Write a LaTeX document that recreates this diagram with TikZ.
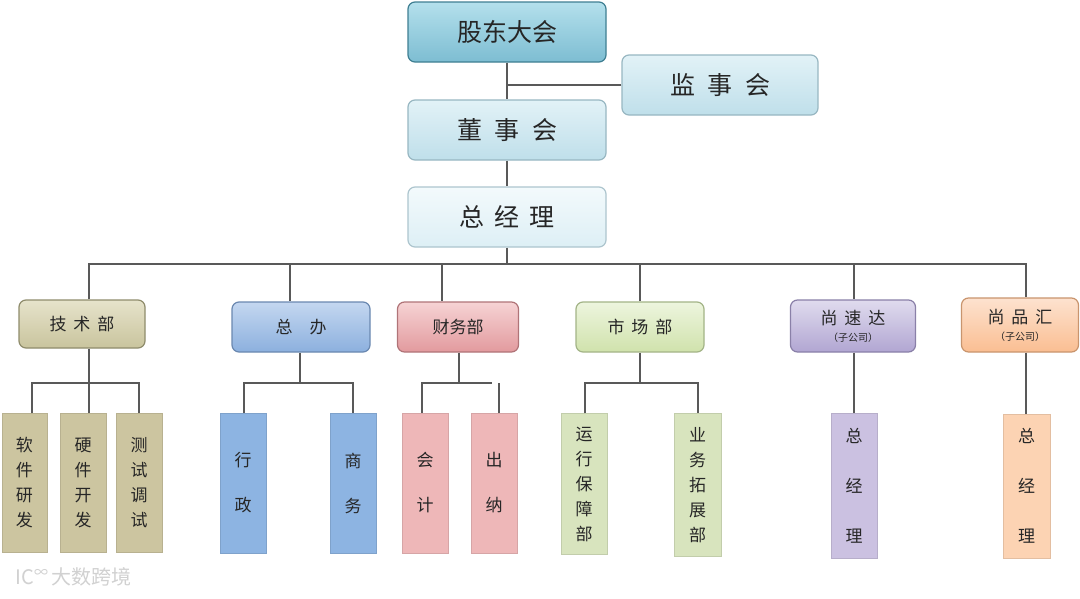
\documentclass[tikz,border=0pt]{standalone}
\usepackage{fontspec}
\newfontfamily\cjk{Noto Sans CJK SC}
\definecolor{gdT}{HTML}{B4E0EC}\definecolor{gdB}{HTML}{7DBDD2}\definecolor{gdD}{HTML}{3F7F92}
\definecolor{jsT}{HTML}{E2F2F7}\definecolor{jsB}{HTML}{BFDFEA}\definecolor{jsD}{HTML}{98B7C2}
\definecolor{zjT}{HTML}{F3FAFC}\definecolor{zjB}{HTML}{DDEFF5}
\definecolor{kT}{HTML}{E6E3CB}\definecolor{kB}{HTML}{C9C49D}\definecolor{kD}{HTML}{8F8C6C}\definecolor{kS}{HTML}{CCC5A0}
\definecolor{bT}{HTML}{C4D7F0}\definecolor{bB}{HTML}{8CB0DE}\definecolor{bD}{HTML}{6A88B0}\definecolor{bS}{HTML}{8DB4E2}
\definecolor{rT}{HTML}{F6D3D4}\definecolor{rB}{HTML}{E29A9E}\definecolor{rD}{HTML}{B07478}\definecolor{rS}{HTML}{EEB7B8}
\definecolor{gT}{HTML}{EDF5DE}\definecolor{gB}{HTML}{D0E2AC}\definecolor{gD}{HTML}{A3B487}\definecolor{gS}{HTML}{D8E4BE}
\definecolor{vT}{HTML}{E0DBEE}\definecolor{vB}{HTML}{B1A6D2}\definecolor{vD}{HTML}{8A80A8}\definecolor{vS}{HTML}{CBC1E1}
\definecolor{oT}{HTML}{FDE2CF}\definecolor{oB}{HTML}{FABE92}\definecolor{oD}{HTML}{C9956E}\definecolor{oS}{HTML}{FCD3B3}
\begin{document}
\begin{tikzpicture}[x=1pt,y=-1pt,
  ln/.style={draw=black!65,line width=1.6pt},
  box/.style={rounded corners=7pt,line width=1.2pt,inner sep=0pt,font=\cjk,text=black!85},
  sub/.style={inner sep=0pt,font=\cjk\fontsize{17}{25}\selectfont,text=black!85,align=center,line width=0.5pt},
  big/.style={box,font=\cjk\fontsize{25}{30}\selectfont},
  dept/.style={box,font=\cjk\fontsize{17}{20}\selectfont,align=center}
]
\useasboundingbox (0,0) rectangle (1080,598);
\fill[white] (0,0) rectangle (1080,598);

% top boxes
\node[big,draw=gdD,top color=gdT,bottom color=gdB,minimum width=198pt,minimum height=60pt] (gd) at (507,32) {股东大会};
\node[big,draw=jsD,top color=jsT,bottom color=jsB,minimum width=196pt,minimum height=60pt] (js) at (720,85) {监\hspace{0.5em}事\hspace{0.5em}会};
\node[big,draw=jsD,top color=jsT,bottom color=jsB,minimum width=198pt,minimum height=60pt] (ds) at (507,130) {董\hspace{0.5em}事\hspace{0.5em}会};
\node[big,draw=jsD!80,top color=zjT,bottom color=zjB,minimum width=198pt,minimum height=60pt] (zj) at (507,217) {总\hspace{0.4em}经\hspace{0.4em}理};

% departments
\node[dept,draw=kD,top color=kT,bottom color=kB,minimum width=126pt,minimum height=48pt] (jsb) at (82,324) {技\hspace{0.4em}术\hspace{0.4em}部};
\node[dept,draw=bD,top color=bT,bottom color=bB,minimum width=138pt,minimum height=50pt] (zb) at (301,327) {总\hspace{1em}办};
\node[dept,draw=rD,top color=rT,bottom color=rB,minimum width=121pt,minimum height=50pt] (cw) at (458,327) {财务部};
\node[dept,draw=gD,top color=gT,bottom color=gB,minimum width=128pt,minimum height=50pt] (sc) at (640,327) {市\hspace{0.4em}场\hspace{0.4em}部};
\node[dept,draw=vD,top color=vT,bottom color=vB,minimum width=125pt,minimum height=52pt] (ssd) at (853,326) {尚\hspace{0.4em}速\hspace{0.4em}达\\[-3pt]{\fontsize{10}{12}\selectfont（子公司）}};
\node[dept,draw=oD,top color=oT,bottom color=oB,minimum width=117pt,minimum height=54pt] (sph) at (1020,325) {尚\hspace{0.4em}品\hspace{0.4em}汇\\[-3pt]{\fontsize{10}{12}\selectfont（子公司）}};

% sub units
\tikzset{
  khaki/.style={sub,fill=kS,draw=kS!90!black},
  bluesub/.style={sub,fill=bS,draw=bS!90!black},
  pinksub/.style={sub,fill=rS,draw=rS!90!black},
  greensub/.style={sub,fill=gS,draw=gS!90!black},
  violetsub/.style={sub,fill=vS,draw=vS!90!black},
  orangesub/.style={sub,fill=oS,draw=oS!90!black}
}
\node[khaki,minimum width=45pt,minimum height=139pt] (rj) at (24.5,483) {软\\件\\研\\发};
\node[khaki,minimum width=46pt,minimum height=139pt] (yj) at (83,483) {硬\\件\\开\\发};
\node[khaki,minimum width=46pt,minimum height=139pt] (cs) at (139,483) {测\\试\\调\\试};
\node[bluesub,minimum width=46pt,minimum height=140pt,font=\cjk\fontsize{17}{45}\selectfont] (xz) at (243,483) {行\\政};
\node[bluesub,minimum width=46pt,minimum height=140pt,font=\cjk\fontsize{17}{45}\selectfont] (sw) at (353,483) {商\\务};
\node[pinksub,minimum width=46pt,minimum height=140pt,font=\cjk\fontsize{17}{45}\selectfont] (kj) at (425,483) {会\\计};
\node[pinksub,minimum width=46pt,minimum height=140pt,font=\cjk\fontsize{17}{45}\selectfont] (cn) at (494,483) {出\\纳};
\node[greensub,minimum width=46pt,minimum height=141pt] (yx) at (584,484) {运\\行\\保\\障\\部};
\node[greensub,minimum width=47pt,minimum height=143pt] (yw) at (697.5,485) {业\\务\\拓\\展\\部};
\node[violetsub,minimum width=46pt,minimum height=145pt,font=\cjk\fontsize{17}{50}\selectfont] (ssz) at (854,485.5) {总\\经\\理};
\node[orangesub,minimum width=47pt,minimum height=144pt,font=\cjk\fontsize{17}{50}\selectfont] (spz) at (1026.5,486) {总\\经\\理};

% connectors, upper part
\draw[ln] (gd.south) -- (ds.north);
\draw[ln] (js.west) -- (js.west -| gd.south);
\draw[ln] (ds.south) -- (zj.north);
\coordinate (bus) at (0,264);
\draw[ln] (zj.south) -- (zj.south |- bus);
\coordinate (d1) at (89,0);
\coordinate (d2) at (290,0);
\coordinate (d3) at (442,0);
\coordinate (d4) at (640,0);
\coordinate (d5) at (854,0);
\coordinate (d6) at (1026,0);
\draw[ln] (d1 |- jsb.north) -- (d1 |- bus) -- (d6 |- bus) -- (d6 |- sph.north);
\draw[ln] (d2 |- bus) -- (d2 |- zb.north);
\draw[ln] (d3 |- bus) -- (d3 |- cw.north);
\draw[ln] (d4 |- bus) -- (d4 |- sc.north);
\draw[ln] (d5 |- bus) -- (d5 |- ssd.north);

% lower connectors
\coordinate (sb) at (0,383);
\draw[ln] (d1 |- jsb.south) -- (d1 |- yj.north);
\draw[ln] (32,0 |- rj.north) -- (32,0 |- sb) -- (139,0 |- sb) -- (139,0 |- cs.north);
\coordinate (z1) at (300,0);
\draw[ln] (z1 |- zb.south) -- (z1 |- sb);
\draw[ln] (244,0 |- xz.north) -- (244,0 |- sb) -- (353,0 |- sb) -- (353,0 |- sw.north);
\coordinate (c1) at (459,0);
\draw[ln] (c1 |- cw.south) -- (c1 |- sb);
\draw[ln] (422,0 |- kj.north) -- (422,0 |- sb) -- (492,0 |- sb);
\draw[ln] (499,0 |- sb) -- (499,0 |- cn.north);
\draw[ln] (sc.south) -- (sc.south |- sb);
\draw[ln] (585,0 |- yx.north) -- (585,0 |- sb) -- (698,0 |- sb) -- (698,0 |- yw.north);
\draw[ln] (d5 |- ssd.south) -- (d5 |- ssz.north);
\draw[ln] (d6 |- sph.south) -- (d6 |- spz.north);

% watermark
\node[font=\cjk\fontsize{20}{20}\selectfont,text=black!18,anchor=west] (wm) at (12,577) {IC\textsuperscript{∞}\,大数跨境};
\end{tikzpicture}
\end{document}
